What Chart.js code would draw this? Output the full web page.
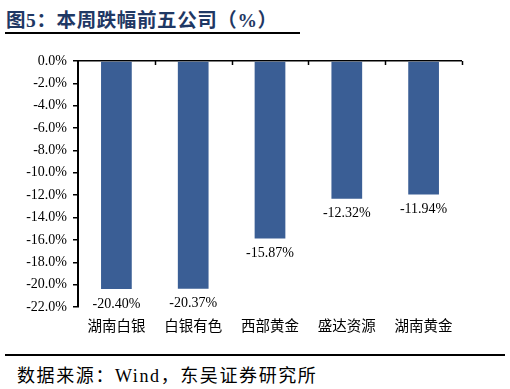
<!DOCTYPE html>
<html>
<head>
<meta charset="utf-8">
<script src="https://cdn.jsdelivr.net/npm/chart.js@4"></script>
<style>
  html, body { margin:0; padding:0; background:#fff; }
  #wrap { position:relative; width:510px; height:389px; overflow:hidden; }
  #title { position:absolute; left:6px; top:4px; font: 700 19.5px "Liberation Serif", "Noto Sans CJK SC", serif; color:#1F3864; letter-spacing:0.6px; white-space:nowrap; }
  #tline { position:absolute; left:5px; top:32px; width:295px; height:2px; background:#000; }
  #sline { position:absolute; left:5px; top:354px; width:500px; height:2px; background:#000; }
  #source { position:absolute; left:17px; top:361px; font: 400 18px "Liberation Serif", "Noto Sans CJK SC", serif; color:#000; letter-spacing:1.6px; white-space:nowrap; }
  #cv { position:absolute; left:0; top:40px; }
</style>
</head>
<body>
<div id="wrap">
  <div id="title">图5：本周跌幅前五公司（%）</div>
  <div id="tline"></div>
  <canvas id="cv" width="510" height="300" style="width:510px;height:300px"></canvas>
  <div id="sline"></div>
  <div id="source">数据来源：Wind，东吴证券研究所</div>
</div>
<script>
const categories = ["湖南白银", "白银有色", "西部黄金", "盛达资源", "湖南黄金"];
const values = [-20.40, -20.37, -15.87, -12.32, -11.94];
const yMin = -22, yMax = 0, yStep = 2;

const valueLabels = {
  id: 'valueLabels',
  afterDatasetsDraw(chart) {
    const ctx = chart.ctx;
    const meta = chart.getDatasetMeta(0);
    ctx.save();
    ctx.font = '14px "Liberation Serif", serif';
    ctx.fillStyle = '#000';
    ctx.textAlign = 'center';
    ctx.textBaseline = 'middle';
    meta.data.forEach((bar, i) => {
      ctx.fillText(values[i].toFixed(2) + '%', bar.x, bar.y + 15);
    });
    const xs = chart.scales.x, ys = chart.scales.y;
    const y0 = ys.getPixelForValue(0);
    ctx.strokeStyle = '#000';
    ctx.lineWidth = 1.5;
    const n = categories.length;
    for (let i = 1; i <= n; i++) {
      const x = i < n ? (xs.getPixelForValue(i - 1) + xs.getPixelForValue(i)) / 2 : chart.chartArea.right;
      const xr = Math.round(x) + 0.5;
      ctx.beginPath();
      ctx.moveTo(xr, y0);
      ctx.lineTo(xr, y0 + 4);
      ctx.stroke();
    }
    ctx.restore();
  }
};

new Chart(document.getElementById('cv'), {
  type: 'bar',
  data: {
    labels: categories,
    datasets: [{
      data: values,
      backgroundColor: '#3A5E95',
      borderWidth: 0,
      barPercentage: 0.4,
      categoryPercentage: 1.0
    }]
  },
  options: {
    responsive: false,
    animation: false,
    devicePixelRatio: 1,
    layout: { padding: { top: 21, left: 0, right: 48, bottom: 0 } },
    plugins: { legend: { display: false }, tooltip: { enabled: false } },
    scales: {
      x: {
        grid: { display: false, drawTicks: false },
        border: { display: false },
        ticks: {
          color: '#000',
          padding: 10,
          maxRotation: 0,
          font: { family: '"Noto Sans CJK SC", sans-serif', size: 14.5 }
        },
        afterFit(s) { s.height = 33; }
      },
      y: {
        min: yMin, max: yMax,
        ticks: {
          stepSize: yStep,
          color: '#000',
          padding: 6,
          font: { family: '"Liberation Serif", serif', size: 14 },
          callback: v => v.toFixed(1) + '%'
        },
        grid: {
          drawTicks: true,
          tickLength: 5,
          tickColor: '#000',
          tickWidth: 1.5,
          lineWidth: 1.5,
          color: c => (c.tick && c.tick.value === 0) ? '#000' : 'rgba(0,0,0,0)'
        },
        border: { display: true, color: '#000', width: 2 },
        afterFit(s) { s.width = 78; }
      }
    }
  },
  plugins: [valueLabels]
});
</script>
</body>
</html>
